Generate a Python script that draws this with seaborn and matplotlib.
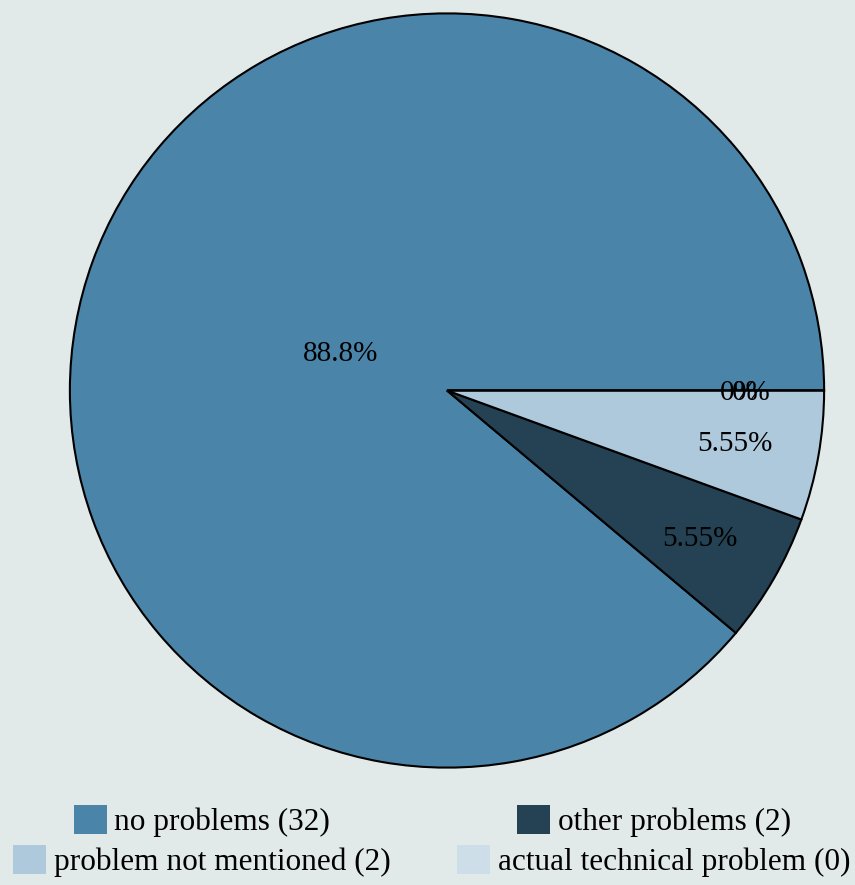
import math
import matplotlib
matplotlib.use("Agg")
import matplotlib.pyplot as plt
from matplotlib.patches import Patch
import seaborn as sns

categories = ["no problems", "other problems", "problem not mentioned", "actual technical problem"]
counts = [32, 2, 2, 0]
colors = ["#4b84a9", "#244254", "#afc9dc", "#cddee9"]
background = "#e2e9e9"

sns.set_theme(style="white", rc={"figure.facecolor": background, "axes.facecolor": background,
                                 "text.color": "black"})
plt.rcParams["font.family"] = ["Liberation Serif", "DejaVu Serif"]

W, H = 855, 885
fig = plt.figure(figsize=(W / 100, H / 100), dpi=100)

cx, cy, r = 447, 390.5, 379
ax = fig.add_axes([(cx - r) / W, (H - cy - r) / H, 2 * r / W, 2 * r / H])


def trunc_pct(p):
    """Percent truncated to three significant digits."""
    if p <= 0:
        return "0%"
    d = max(0, 2 - int(math.floor(math.log10(p))))
    v = math.floor(p * 10 ** d + 1e-9) / 10 ** d
    return f"{v:.{d}f}%"


total = sum(counts)
wedges, texts = ax.pie(
    counts,
    colors=colors,
    startangle=0,
    counterclock=True,
    radius=1,
    wedgeprops=dict(edgecolor="black", linewidth=1.5),
)

fs_pct = 21
fs_leg = 22.5
angle = 0.0
for w, c in zip(wedges, counts):
    frac = c / total
    mid = math.radians(angle + 180 * frac)
    pct = 100 * frac
    dist = 0.30 if frac > 0.5 else 0.775
    x, y = dist * math.cos(mid), dist * math.sin(mid) - 0.006
    if c == 0:
        # empty slice: label at both coincident edges
        for dx in (0.0, 0.032):
            ax.text(x + dx, y, trunc_pct(pct), ha="center", va="center",
                    fontsize=fs_pct, color="black")
    else:
        ax.text(x, y, trunc_pct(pct), ha="center", va="center",
                fontsize=fs_pct, color="black")
    angle += 360 * frac

ax.set_xlim(-1.005, 1.005)
ax.set_ylim(-1.005, 1.005)
ax.set_aspect("equal")
ax.axis("off")

# centred two-column legend
positions = [(202, 821), (654, 821), (202, 861), (654, 861)]
for cat, cnt, col, (px, py) in zip(categories, counts, colors, positions):
    h = Patch(facecolor=col, edgecolor="none")
    leg = fig.legend(
        [h], [f"{cat} ({cnt})"],
        loc="center", bbox_to_anchor=(px / W, 1 - py / H),
        frameon=False, fontsize=fs_leg,
        handlelength=1.05, handleheight=1.05, handletextpad=0.25,
        borderpad=0, borderaxespad=0,
    )
    for t in leg.get_texts():
        t.set_color("black")

fig.savefig("out.png", dpi=100, facecolor=background)
